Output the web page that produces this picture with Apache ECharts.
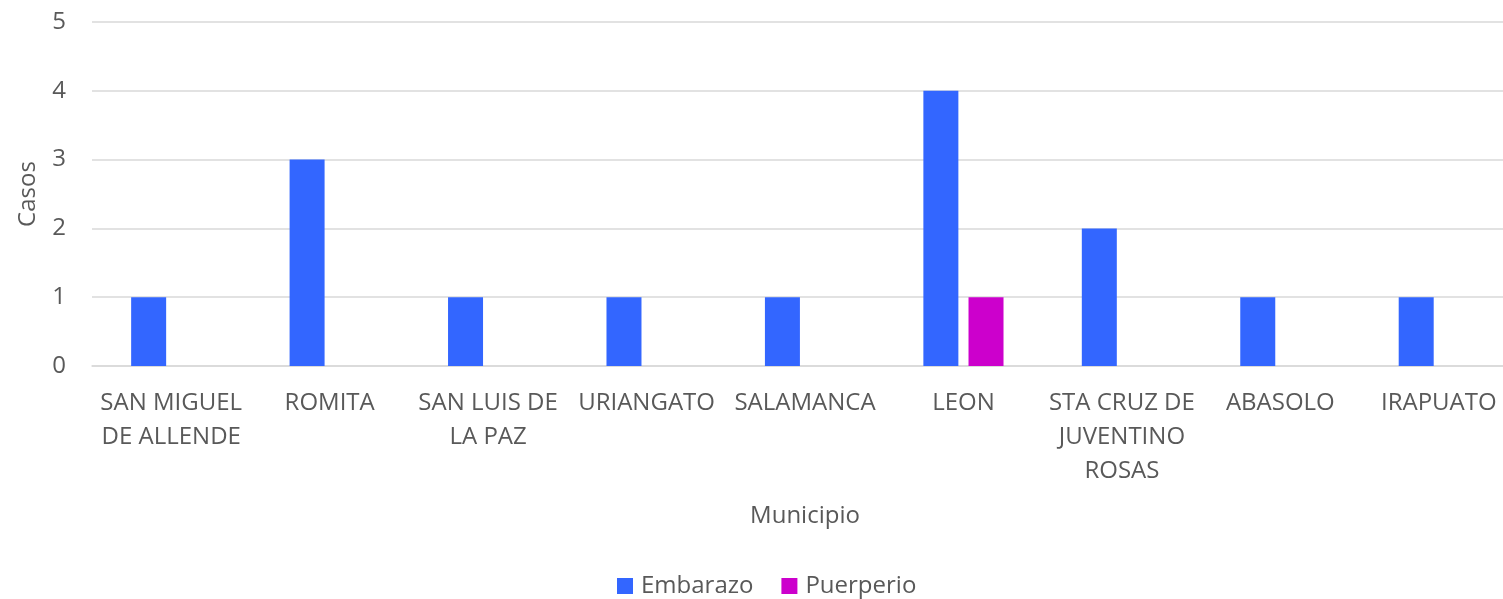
<!DOCTYPE html>
<html>
<head>
<meta charset="utf-8">
<script src="https://cdn.jsdelivr.net/npm/echarts@6/dist/echarts.min.js"></script>
<style>
  html, body { margin: 0; padding: 0; background: #fff; overflow: hidden; }
  /* el área de trazado del original se sale por la derecha */
  #chart { width: 1518px; height: 599px; }
</style>
</head>
<body>
<div id="chart"></div>
<script>
// municipios (con saltos de línea como en el original)
const municipios = [
  "SAN MIGUEL\nDE ALLENDE",
  "ROMITA",
  "SAN LUIS DE\nLA PAZ",
  "URIANGATO",
  "SALAMANCA",
  "LEON",
  "STA CRUZ DE\nJUVENTINO\nROSAS",
  "ABASOLO",
  "IRAPUATO"
]
const embarazo = [1, 3, 1, 1, 1, 4, 2, 1, 1]
const puerperio = [0, 0, 0, 0, 0, 1, 0, 0, 0]

const textColor = "#595959"
const lineColor = "#d9d9d9"
const font = "'Open Sans', 'Noto Sans', sans-serif"

const chart = echarts.init(document.getElementById("chart"))

chart.setOption({
  animation: false,
  textStyle: { fontFamily: font },
  grid: {
    left: 92,
    right: 0,
    top: 22,
    bottom: 233
  },
  legend: {
    data: ["Embarazo", "Puerperio"],
    top: 569,
    left: 612,
    itemWidth: 16,
    itemHeight: 16,
    itemGap: 28,
    icon: "rect",
    textStyle: {
      color: textColor,
      fontSize: 24,
      lineHeight: 24,
      padding: [0, 0, 0, 3],
      fontFamily: font
    }
  },
  xAxis: {
    type: "category",
    data: municipios,
    name: "Municipio",
    nameLocation: "middle",
    nameGap: 138,
    nameTextStyle: { color: textColor, fontSize: 24, fontFamily: font },
    axisLine: { lineStyle: { color: lineColor, width: 1.5 } },
    axisTick: { show: false },
    axisLabel: {
      color: textColor,
      fontSize: 24,
      lineHeight: 34,
      margin: 20,
      interval: 0,
      fontFamily: font
    }
  },
  yAxis: {
    type: "value",
    min: 0,
    max: 5,
    interval: 1,
    name: "Casos",
    nameLocation: "middle",
    nameGap: 52,
    nameTextStyle: { color: textColor, fontSize: 24, fontFamily: font },
    axisLine: { show: false },
    axisTick: { show: false },
    axisLabel: { color: textColor, fontSize: 24, margin: 26, fontFamily: font },
    splitLine: { lineStyle: { color: lineColor, width: 1.5 } }
  },
  series: [
    {
      name: "Embarazo",
      type: "bar",
      data: embarazo,
      barWidth: 35,
      barGap: "29%",
      itemStyle: { color: "#3366ff" }
    },
    {
      name: "Puerperio",
      type: "bar",
      data: puerperio,
      barWidth: 35,
      itemStyle: { color: "#cc00cc" }
    }
  ]
})
</script>
</body>
</html>
